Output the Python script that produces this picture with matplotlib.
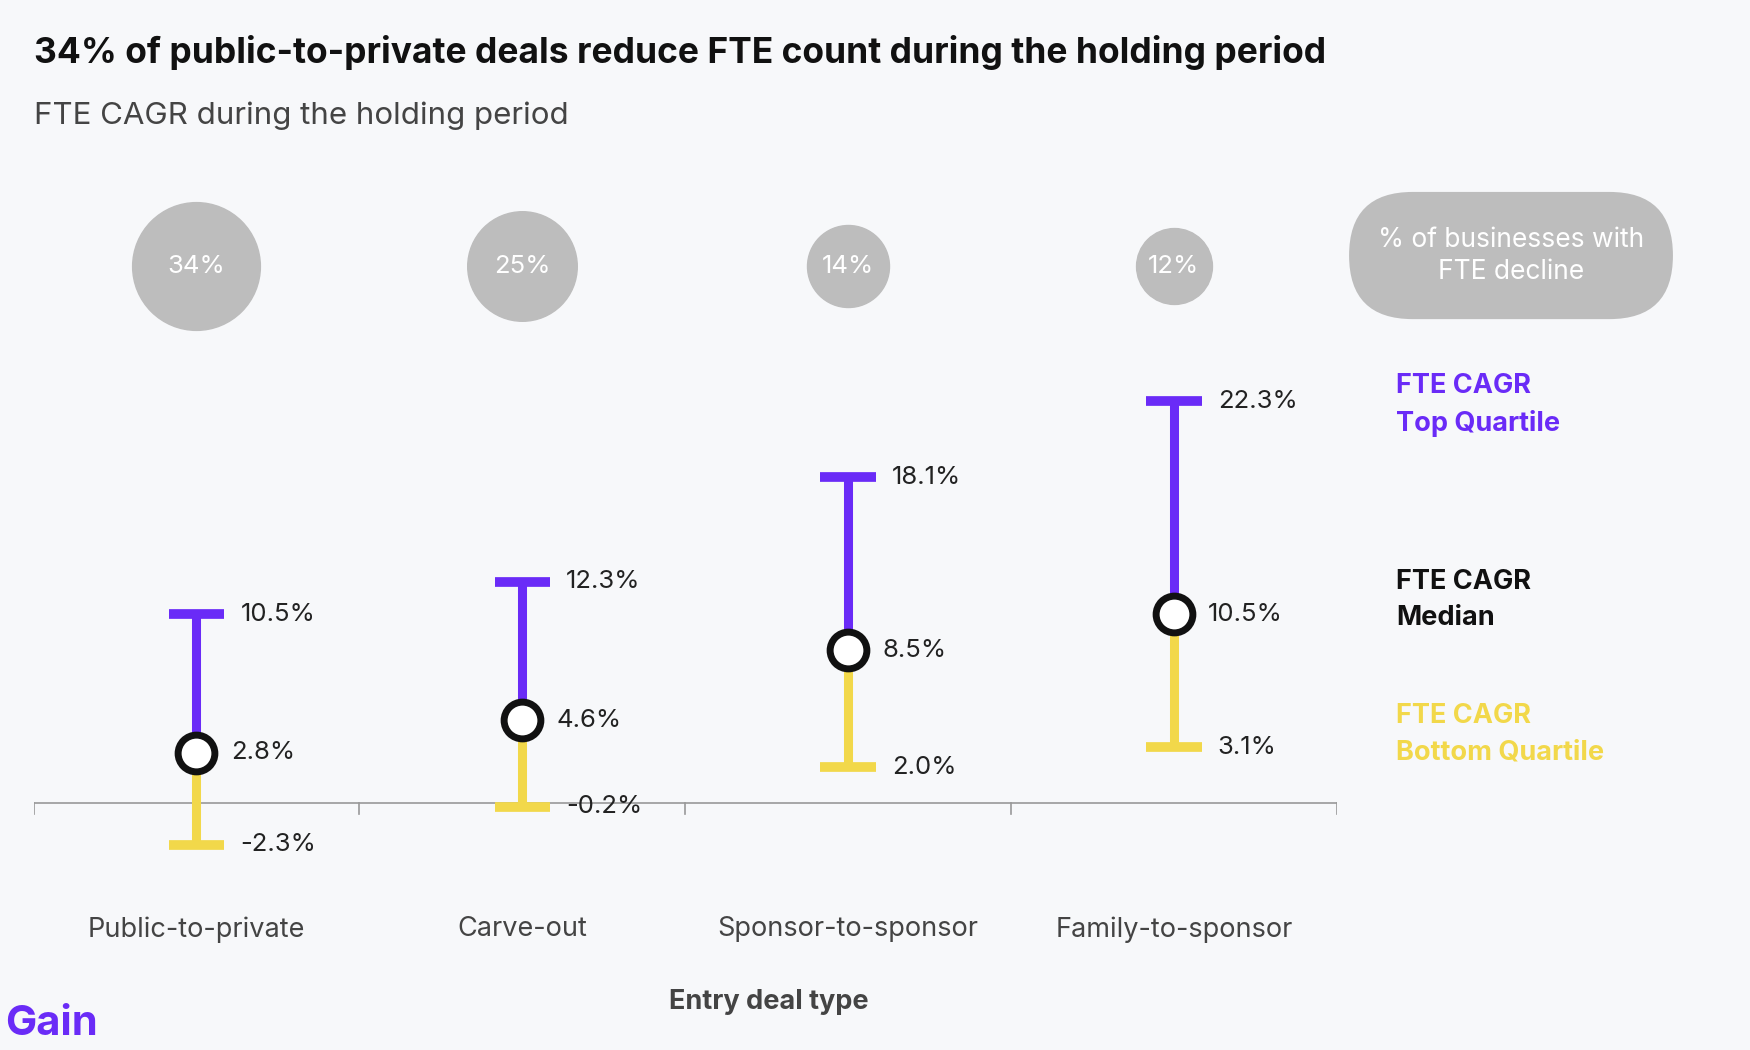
import matplotlib.pyplot as plt
from matplotlib.patches import FancyBboxPatch

plt.rcParams['font.family'] = ['Inter', 'DejaVu Sans']

categories = ['Public-to-private', 'Carve-out', 'Sponsor-to-sponsor', 'Family-to-sponsor']
top_q = [10.5, 12.3, 18.1, 22.3]
median = [2.8, 4.6, 8.5, 10.5]
bottom_q = [-2.3, -0.2, 2.0, 3.1]
decline_pct = [34, 25, 14, 12]

purple = '#6A2BF7'
yellow = '#F2D84A'
grey = '#BDBDBD'
bg = '#F7F8FA'

W, H = 1567, 941  # reference pixel frame
fig = plt.figure(figsize=(17.5, 10.5), dpi=100, facecolor=bg)

# overlay in reference pixel units for the pill
over = fig.add_axes([0, 0, 1, 1], zorder=0)
over.set_xlim(0, W)
over.set_ylim(H, 0)
over.axis('off')
over.add_patch(FancyBboxPatch((1208, 172), 290, 114, boxstyle='round,pad=0,rounding_size=57',
                              facecolor=grey, edgecolor='none'))
over.text(1353, 229, '% of businesses with\nFTE decline', ha='center', va='center',
          fontsize=19, color='white', linespacing=1.3)

ax = fig.add_axes([30 / W, 1 - 849 / H, (1197 - 30) / W, (849 - 300) / H], zorder=1)
ax.patch.set_alpha(0)
ax.set_xlim(-0.5, 3.5)
ax.set_ylim(-8, 26)

x = list(range(len(categories)))
for i in x:
    ax.plot([i, i], [median[i], top_q[i]], color=purple, lw=6.5, solid_capstyle='butt', zorder=2)
    ax.plot([i, i], [bottom_q[i], median[i]], color=yellow, lw=6.5, solid_capstyle='butt', zorder=2)
    ax.plot([i - 0.085, i + 0.085], [top_q[i]] * 2, color=purple, lw=7, solid_capstyle='butt', zorder=2)
    ax.plot([i - 0.085, i + 0.085], [bottom_q[i]] * 2, color=yellow, lw=7, solid_capstyle='butt', zorder=2)
    ax.scatter(i, median[i], s=700, facecolor='white', edgecolor='#111111', linewidth=5, zorder=4)
    ax.text(i + 0.135, top_q[i], f'{top_q[i]:.1f}%', va='center', fontsize=18.5, color='#222222')
    ax.text(i + 0.105, median[i], f'{median[i]:.1f}%', va='center', fontsize=18.5, color='#222222')
    ax.text(i + 0.135, bottom_q[i], f'{bottom_q[i]:.1f}%', va='center', fontsize=18.5, color='#222222')
    ax.scatter(i, 29.8, s=decline_pct[i] * 249, color=grey, clip_on=False, zorder=1)
    ax.text(i, 29.8, f'{decline_pct[i]}%', ha='center', va='center', fontsize=18.5, color='white')
    ax.text(i, -7.0, categories[i], ha='center', va='center', fontsize=19.5, color='#444444')

ax.axhline(0, color='#999999', lw=1.2, zorder=1)
for t in [-0.5, 0.5, 1.5, 2.5, 3.5]:
    ax.plot([t, t], [0, -0.6], color='#999999', lw=1.2)
for s in ax.spines.values():
    s.set_visible(False)
ax.set_yticks([])
ax.set_xticks([])

fig.text(688 / W, 1 - 898 / H, 'Entry deal type', ha='center', va='center',
         fontsize=19.5, fontweight='bold', color='#444444')
fig.text(30 / W, 1 - 47 / H, '34% of public-to-private deals reduce FTE count during the holding period',
         fontsize=25.5, fontweight='bold', va='center', color='#111111')
fig.text(30 / W, 1 - 104 / H, 'FTE CAGR during the holding period', fontsize=22.5, va='center', color='#444444')
fig.text(5 / W, 1 - 918 / H, 'Gain', fontsize=30, fontweight='bold', va='center', color=purple)

fig.text(1250 / W, 1 - 363 / H, 'FTE CAGR\nTop Quartile', fontsize=19.5, fontweight='bold',
         va='center', color=purple, linespacing=1.5)
fig.text(1250 / W, 1 - 538 / H, 'FTE CAGR\nMedian', fontsize=19.5, fontweight='bold',
         va='center', color='#111111', linespacing=1.5)
fig.text(1250 / W, 1 - 658 / H, 'FTE CAGR\nBottom Quartile', fontsize=19.5, fontweight='bold',
         va='center', color=yellow, linespacing=1.5)

fig.savefig('out.png', dpi=100, facecolor=bg)
